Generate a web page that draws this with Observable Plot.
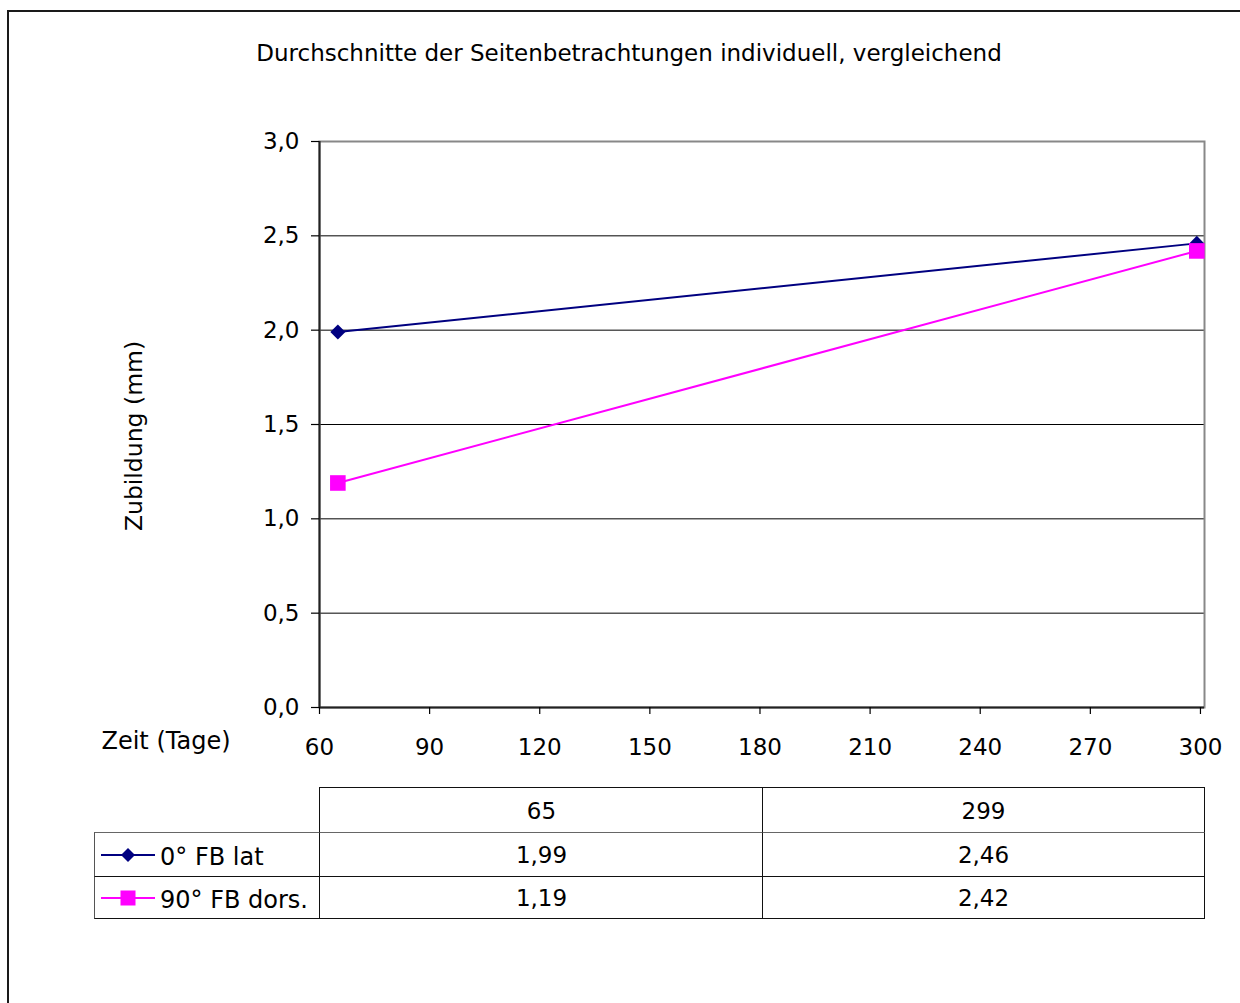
<!DOCTYPE html>
<html><head><meta charset="utf-8">
<script src="https://cdn.jsdelivr.net/npm/d3@7"></script>
<script src="https://cdn.jsdelivr.net/npm/@observablehq/plot@0.6"></script>
<style>
html,body{margin:0;padding:0;background:#fff;}
#wrap{position:relative;width:1240px;height:1003px;overflow:hidden;font-family:"DejaVu Sans",sans-serif;color:#000;}
.abs{position:absolute;white-space:nowrap;}
#box{position:absolute;left:7px;top:10px;width:1300px;height:1100px;border:2px solid #1a1a1a;box-sizing:border-box;}
.cell{position:absolute;box-sizing:border-box;display:flex;align-items:center;justify-content:center;font-size:23px;}
</style></head>
<body><div id="wrap"><div id="box"></div></div>
<script>
const title = "Durchschnitte der Seitenbetrachtungen individuell, vergleichend";
const yLabel = "Zubildung (mm)";
const xLabel = "Zeit (Tage)";
const days = [65, 299];
const seriesNames = ["0° FB lat", "90° FB dors."];
const lat0 = [1.99, 2.46];
const dors90 = [1.19, 2.42];
const xTicks = [60, 90, 120, 150, 180, 210, 240, 270, 300];
const yTicks = [0, 0.5, 1, 1.5, 2, 2.5, 3];
const colors = ["#000080", "#ff00ff"];
const symbols = ["diamond2", "square"];

const fmt1 = d => d.toFixed(1).replace(".", ",");
const fmt2 = d => d.toFixed(2).replace(".", ",");

const seriesVals = [lat0, dors90];
const data = [];
seriesNames.forEach((s, i) => days.forEach((d, j) => data.push({series: s, day: d, value: seriesVals[i][j]})));

const chart = Plot.plot({
  width: 1240, height: 780,
  marginLeft: 319, marginRight: 36, marginTop: 141, marginBottom: 73,
  style: {fontFamily: '"DejaVu Sans",sans-serif', fontSize: "23px", background: "transparent", overflow: "visible"},
  x: {domain: [60, 301.1], label: null},
  y: {domain: [0, 3], label: null},
  color: {domain: seriesNames, range: colors},
  symbol: {domain: seriesNames, range: symbols},
  marks: [
    Plot.ruleY(yTicks.slice(1, -1), {stroke: "#000", strokeWidth: 1}),
    Plot.frame({stroke: "#888", strokeWidth: 2}),
    Plot.ruleY([0], {stroke: "#222", strokeWidth: 2}),
    Plot.ruleX([60], {stroke: "#222", strokeWidth: 2}),
    Plot.axisX({ticks: xTicks, tickFormat: d => String(d), tickSize: 7, tickPadding: 24, stroke: "#000", strokeWidth: 1.2, fill: "#000", fontSize: 23, label: null}),
    Plot.axisY({ticks: yTicks, tickFormat: fmt1, tickSize: 8, tickPadding: 12, stroke: "#000", strokeWidth: 1.2, fill: "#000", fontSize: 23, label: null}),
    Plot.line(data, {x: "day", y: "value", z: "series", stroke: "series", strokeWidth: 2}),
    Plot.dot(data.filter(d => d.series === seriesNames[0]), {x: "day", y: "value", symbol: "series", fill: "series", r: 6.8, stroke: "none"}),
    Plot.dot(data.filter(d => d.series === seriesNames[1]), {x: "day", y: "value", symbol: "series", fill: "series", r: 8.8, stroke: "none"})
  ]
});
chart.style.position = "absolute";
chart.style.left = "0px";
chart.style.top = "0px";
const wrap = document.getElementById("wrap");
wrap.appendChild(chart);

function addText(txt, css) {
  const d = document.createElement("div");
  d.className = "abs";
  d.textContent = txt;
  Object.assign(d.style, css);
  wrap.appendChild(d);
  return d;
}
addText(title, {left: "629px", top: "53px", transform: "translate(-50%,-50%)", fontSize: "23px"});
addText(yLabel, {left: "134px", top: "436px", transform: "translate(-50%,-50%) rotate(-90deg)", fontSize: "23.5px"});
addText(xLabel, {left: "166px", top: "741px", transform: "translate(-50%,-50%)", fontSize: "24px"});

// data table
const colX = [94, 319, 762, 1204];
const rowY = [787, 832, 876, 918];
function cell(x0, y0, x1, y1, borders, content) {
  const c = document.createElement("div");
  c.className = "cell";
  Object.assign(c.style, {left: x0 + "px", top: y0 + "px", width: (x1 - x0) + "px", height: (y1 - y0) + "px"});
  Object.assign(c.style, borders);
  if (content instanceof Node) c.appendChild(content); else c.textContent = content;
  wrap.appendChild(c);
  return c;
}
const B = "1.5px solid #111";
// header row
days.forEach((d, j) => cell(colX[j + 1], rowY[0], colX[j + 2] + 1, rowY[1] + 1, {borderTop: B, borderLeft: B, borderRight: j === days.length - 1 ? B : "none"}, String(d)));
// data rows
seriesNames.forEach((s, i) => {
  const y0 = rowY[i + 1], y1 = rowY[i + 2];
  const leg = document.createElement("div");
  leg.style.cssText = "display:flex;align-items:center;width:100%;height:100%;padding-left:5px;box-sizing:border-box;";
  const sw = d3.create("svg").attr("width", 56).attr("height", 20).style("flex", "none");
  sw.append("line").attr("x1", 1).attr("x2", 55).attr("y1", 10).attr("y2", 10).attr("stroke", colors[i]).attr("stroke-width", 2);
  if (i === 0) sw.append("path").attr("d", "M28,3L35,10L28,17L21,10Z").attr("fill", colors[i]);
  else sw.append("rect").attr("x", 20.5).attr("y", 2.5).attr("width", 15).attr("height", 15).attr("fill", colors[i]);
  leg.appendChild(sw.node());
  const t = document.createElement("span");
  t.textContent = s;
  t.style.marginLeft = "4px";
  t.style.fontSize = "24px";
  t.style.position = "relative";
  t.style.top = "2px";
  leg.appendChild(t);
  cell(colX[0], y0, colX[1] + 1, y1 + 1, {borderTop: i === 0 ? "1.5px solid #666" : B, borderLeft: "1.5px solid #555", borderBottom: i === seriesNames.length - 1 ? B : "none", justifyContent: "flex-start"}, leg);
  seriesVals[i].forEach((v, j) => cell(colX[j + 1], y0, colX[j + 2] + 1, y1 + 1, {borderTop: i === 0 ? "1.5px solid #666" : B, borderLeft: B, borderRight: j === days.length - 1 ? B : "none", borderBottom: i === seriesNames.length - 1 ? B : "none"}, fmt2(v)));
});
</script>
</body></html>
